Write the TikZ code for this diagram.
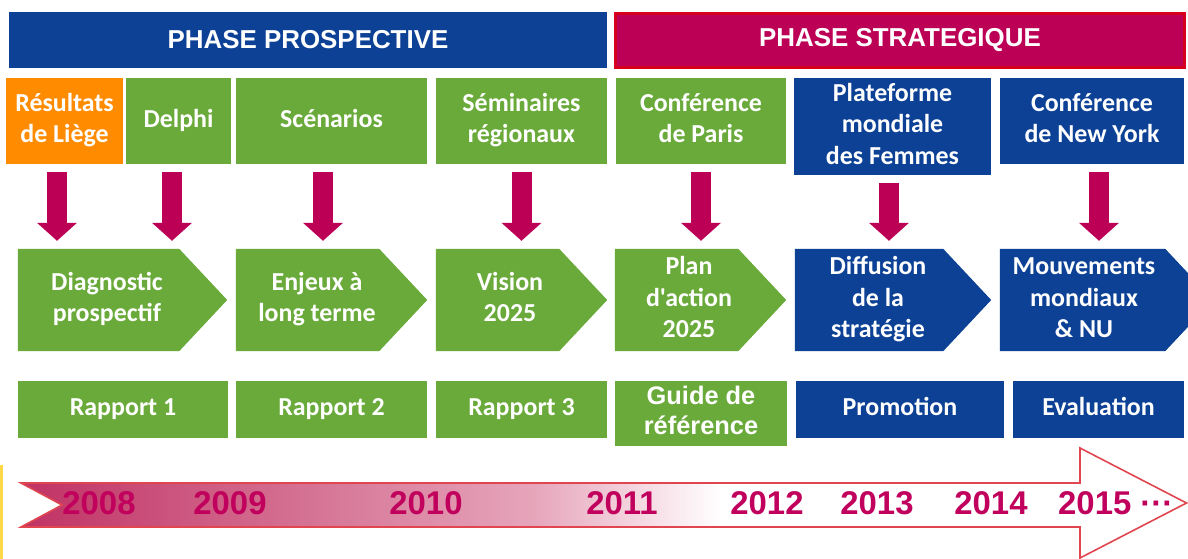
\documentclass[tikz,border=0pt]{standalone}
\usepackage{fontspec}
\setmainfont{Carlito}[Ligatures=TeXOff]
\newfontfamily\arialf{Liberation Sans}
\usetikzlibrary{arrows.meta,backgrounds}
\definecolor{pblue}{RGB}{12,65,150}
\definecolor{pgreen}{RGB}{106,170,59}
\definecolor{porange}{RGB}{255,140,0}
\definecolor{pcrim}{RGB}{188,0,86}
\definecolor{pred}{RGB}{214,0,30}
\definecolor{tlred}{RGB}{225,70,80}
\definecolor{tlA}{RGB}{192,50,100}
\definecolor{tlB}{RGB}{230,165,186}
\definecolor{yearc}{RGB}{192,0,92}
\definecolor{pyellow}{RGB}{255,216,74}
\pgfdeclarehorizontalshading{tlshade}{100bp}{color(0bp)=(tlA); color(25bp)=(tlA); color(47bp)=(tlB); color(55bp)=(white); color(100bp)=(white)}
\newcommand\mlines[2][0]{\begin{tabular}{@{}c@{}}#2\end{tabular}\hspace*{#1bp}}
\newcommand\chevfill[2]{\fill[#2] (#1.north west) -- ([xshift=-48bp]#1.north east) -- (#1.east) -- ([xshift=-48bp]#1.south east) -- (#1.south west) -- cycle;}
\begin{document}
\begin{tikzpicture}[x=1bp,y=-1bp,
  lbl/.style={rectangle, inner sep=0pt, text=white, font=\bfseries\fontsize{26}{31.5}\selectfont},
  hdr/.style={rectangle, inner sep=0pt, text=white, font=\arialf\bfseries\fontsize{26}{30}\selectfont},
  topbox/.style={lbl, minimum height=86bp},
  chevbox/.style={lbl, minimum height=102bp},
  repbox/.style={lbl, minimum height=57bp},
  barrow/.style={draw=pcrim, line width=20bp, -{Triangle[width=39bp,length=18bp]}, shorten <=8bp, shorten >=8bp},
  year/.style={anchor=base, inner sep=0pt, text=yearc, font=\arialf\bfseries\fontsize{33}{36}\selectfont},
  tline/.style={draw=tlred, line width=1.6bp, line join=miter, shading=tlshade}]
\useasboundingbox (0,0) rectangle (1188,559);

% headers
\node[hdr, fill=pblue, minimum width=598bp, minimum height=56bp] (pp) at (308,40) {PHASE PROSPECTIVE};
\node[hdr, fill=pcrim, draw=pred, line width=3bp, minimum width=569bp, minimum height=54bp] (ps) at (900,40.5) {PHASE STRATEGIQUE};

% top boxes
\node[topbox, fill=porange, minimum width=117bp] (res) at (64.5,121) {\mlines{Résultats\\de Liège}};
\node[topbox, fill=pgreen, minimum width=105bp] (del) at (178.5,121) {\mlines{Delphi}};
\node[topbox, fill=pgreen, minimum width=191bp] (sce) at (331.5,121) {\mlines{Scénarios}};
\node[topbox, fill=pgreen, minimum width=171bp] (sem) at (521.5,121) {\mlines{Séminaires\\régionaux}};
\node[topbox, fill=pgreen, minimum width=170bp] (par) at (701,121) {\mlines{Conférence\\de Paris}};
\node[topbox, fill=pblue, minimum width=197bp, minimum height=97bp] (pla) at (892.5,126.5) {\mlines{Plateforme\\mondiale\\des Femmes}};
\node[topbox, fill=pblue, minimum width=184bp] (ny) at (1092,121) {\mlines{Conférence\\de New York}};

% chevrons
\node[chevbox, minimum width=209bp] (diag) at (122.5,300) {\mlines[31]{Diagnostic\\prospectif}};
\node[chevbox, minimum width=191bp] (enj) at (331.5,300) {\mlines[29]{Enjeux à\\long terme}};
\node[chevbox, minimum width=171bp] (vis) at (521.5,300) {\mlines[23]{Vision\\2025}};
\node[chevbox, minimum width=171bp] (plan) at (700.5,300) {\mlines[23]{Plan\\d'action\\2025}};
\node[chevbox, minimum width=196bp] (dif) at (893,300) {\mlines[30]{Diffusion\\de la\\stratégie}};
\node[chevbox, minimum width=213bp] (mou) at (1106.5,300) {\mlines[45]{Mouvements\\mondiaux\\\& NU}};
\begin{scope}[on background layer]
  \chevfill{diag}{pgreen}
  \chevfill{enj}{pgreen}
  \chevfill{vis}{pgreen}
  \chevfill{plan}{pgreen}
  \chevfill{dif}{pblue}
  \chevfill{mou}{pblue}
\end{scope}

% reports
\node[repbox, fill=pgreen, minimum width=210bp] (r1) at (123,409.5) {\mlines{Rapport 1}};
\node[repbox, fill=pgreen, minimum width=191bp] (r2) at (331.5,409.5) {\mlines{Rapport 2}};
\node[repbox, fill=pgreen, minimum width=171bp] (r3) at (521.5,409.5) {\mlines{Rapport 3}};
\node[repbox, fill=pgreen, minimum width=172bp, minimum height=65bp, font=\arialf\bfseries\fontsize{25.5}{30}\selectfont] (guide) at (701,413.5) {\mlines{Guide de\\référence}};
\node[repbox, fill=pblue, minimum width=208bp] (promo) at (900,409.5) {\mlines{Promotion}};
\node[repbox, fill=pblue, minimum width=171bp] (eval) at (1098.5,409.5) {\mlines{Evaluation}};

% block arrows
\draw[barrow] ([xshift=-7.5bp]res.south) -- ([xshift=-7.5bp]res.south |- diag.north);
\draw[barrow] ([xshift=-6.5bp]del.south) -- ([xshift=-6.5bp]del.south |- diag.north);
\draw[barrow] ([xshift=-8.5bp]sce.south) -- ([xshift=-8.5bp]sce.south |- enj.north);
\draw[barrow] (sem.south) -- (sem.south |- vis.north);
\draw[barrow] (par.south) -- (par.south |- plan.north);
\draw[barrow] ([xshift=-3.5bp]pla.south) -- ([xshift=-3.5bp]pla.south |- dif.north);
\draw[barrow] ([xshift=7bp]ny.south) -- ([xshift=7bp]ny.south |- mou.north);

% timeline
\fill[pyellow] (0,465) rectangle (3,559);
\shadedraw[tline] (21,483) -- (1080,483) -- (1080,448) -- (1186.5,503) -- (1080,558) -- (1080,527) -- (21,527) -- (62,505) -- cycle;
\node[year] (y2008) at (99,514) {2008};
\node[year] (y2009) at (230,514) {2009};
\node[year] (y2010) at (426,514) {2010};
\node[year] (y2011) at (622,514) {2011};
\node[year] (y2012) at (767,514) {2012};
\node[year] (y2013) at (877,514) {2013};
\node[year] (y2014) at (991,514) {2014};
\node[year, anchor=base west] (y2015) at (1058,514) {2015 ···};
\end{tikzpicture}
\end{document}
